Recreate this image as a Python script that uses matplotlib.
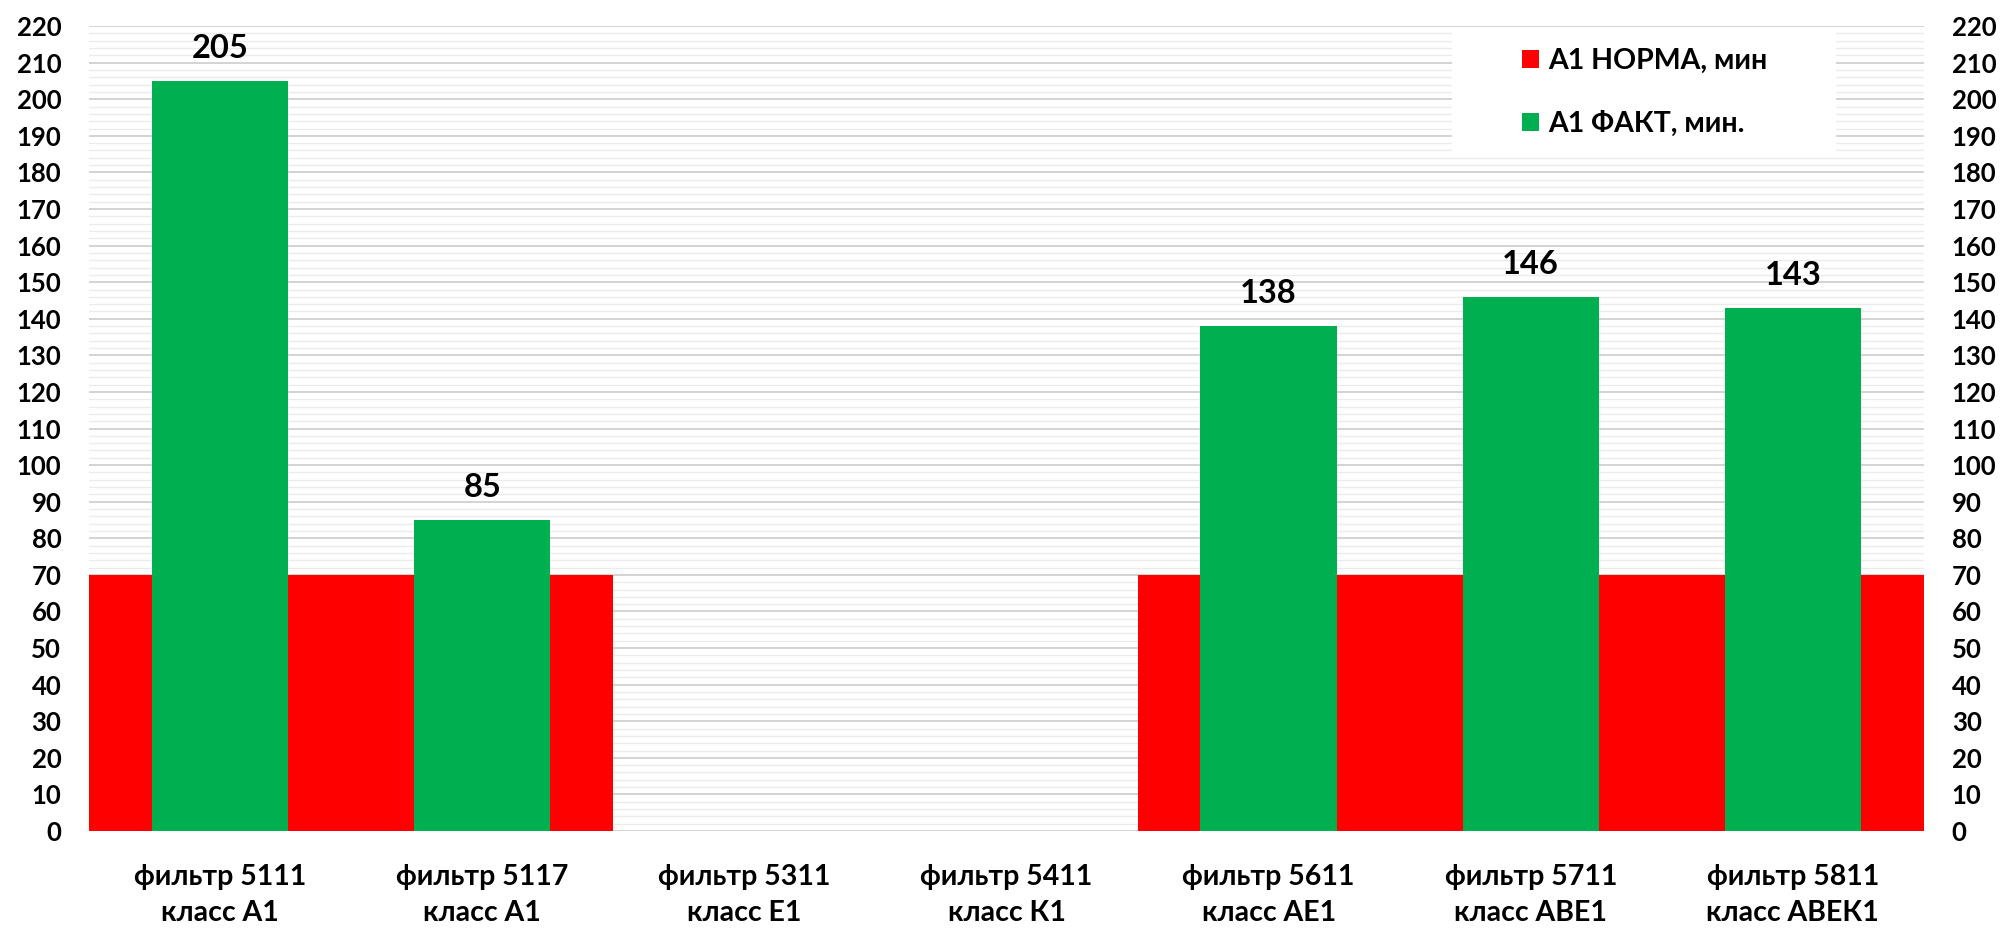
import matplotlib
matplotlib.use("Agg")
import matplotlib.pyplot as plt
import numpy as np
from matplotlib.ticker import MultipleLocator
from matplotlib.patches import Rectangle

categories = ["фильтр 5111\nкласс А1", "фильтр 5117\nкласс А1", "фильтр 5311\nкласс Е1",
              "фильтр 5411\nкласс К1", "фильтр 5611\nкласс АЕ1", "фильтр 5711\nкласс АВЕ1",
              "фильтр 5811\nкласс АВЕК1"]
norma = [70, 70, 0, 0, 70, 70, 70]
fakt = [205, 85, 0, 0, 138, 146, 143]
norma_label = "А1 НОРМА, мин"
fakt_label = "А1 ФАКТ, мин."

plt.rcParams['font.family'] = ['Lato', 'DejaVu Sans']
plt.rcParams['font.weight'] = 'bold'

fig = plt.figure(figsize=(20.02, 9.31), dpi=100)
ax = fig.add_axes([0.0445, 0.1074, 0.9165, 0.8646])
x = np.arange(len(categories))
red = "#ff0000"
green = "#00b050"
ax.bar(x, norma, width=1.0, color=red, label=norma_label, zorder=2)
ax.bar(x, fakt, width=0.52, color=green, label=fakt_label, zorder=3)
for xi, v in zip(x, fakt):
    if v > 0:
        ax.annotate(str(v), (xi, v), xytext=(0, 13), textcoords="offset points",
                    ha="center", va="bottom", fontsize=23.5, fontweight="bold")

ax.set_xlim(-0.5, len(categories) - 0.5)
ax.set_ylim(0, 220)
ax.yaxis.set_major_locator(MultipleLocator(10))
ax.yaxis.set_minor_locator(MultipleLocator(2))
ax.grid(which="major", axis="y", color="#d0d0d0", linewidth=1.3, zorder=0)
ax.grid(which="minor", axis="y", color="#ebebeb", linewidth=1.0, zorder=0)
ax.set_axisbelow(True)
for s in ax.spines.values():
    s.set_visible(False)
ax.tick_params(axis="both", which="both", length=0)
ax.tick_params(axis="y", labelsize=18.5, pad=20, labelright=True)
ax.set_xticks(x)
ax.set_xticklabels(categories, fontsize=20.5, fontweight="bold", linespacing=1.45)
ax.tick_params(axis="x", pad=24)

# legend background box
ax.add_patch(Rectangle((0.743, 0.842), 0.209, 0.1555, transform=ax.transAxes,
                       facecolor="white", edgecolor="none", zorder=4))
leg = ax.legend(loc="upper left", bbox_to_anchor=(0.781, 0.973), fontsize=20.5,
                frameon=False, handlelength=0.6, handleheight=0.6, handletextpad=0.3,
                labelspacing=1.3, borderpad=0.0, borderaxespad=0.0)
for t in leg.get_texts():
    t.set_fontweight("bold")
leg.set_zorder(5)

fig.savefig("out.png", dpi=100, facecolor="white")
